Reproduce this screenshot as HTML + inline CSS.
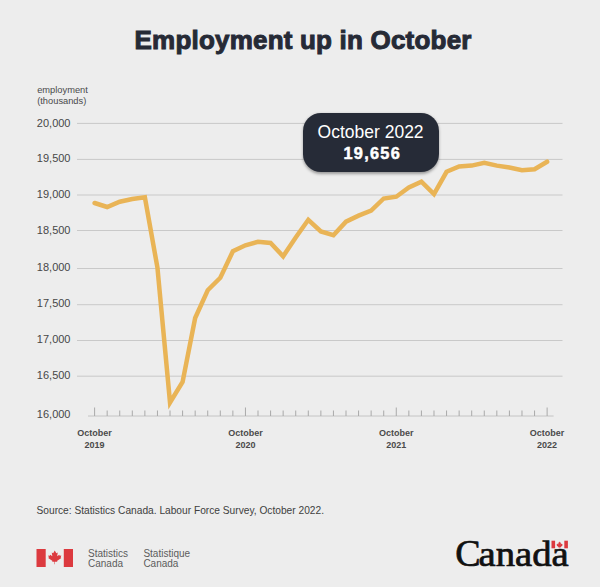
<!DOCTYPE html>
<html><head><meta charset="utf-8">
<style>
html,body{margin:0;padding:0;}
body{width:600px;height:587px;background:#ededed;overflow:hidden;position:relative;font-family:"Liberation Sans",sans-serif;}
svg{position:absolute;left:0;top:0;}
.tip{position:absolute;left:303.3px;top:113.3px;width:136px;height:58.7px;border-radius:18px;background:#262b37;box-shadow:0 1.5px 3px rgba(0,0,0,0.35);}
</style></head><body>
<svg width="600" height="587" viewBox="0 0 600 587">
<text x="303.1" y="48.5" text-anchor="middle" font-family="Liberation Sans" font-weight="bold" font-size="26" fill="#262a36" stroke="#262a36" stroke-width="1.0" letter-spacing="0.2">Employment up in October</text>
<g font-family="Liberation Sans" font-size="9.3" fill="#4a4a4a">
<text x="37.2" y="93">employment</text>
<text x="37.2" y="104.2">(thousands)</text>
</g>
<g stroke="#c9c9c9" stroke-width="1"><line x1="77" y1="123.4" x2="562.5" y2="123.4" /><line x1="77" y1="159.4" x2="562.5" y2="159.4" /><line x1="77" y1="195.0" x2="562.5" y2="195.0" /><line x1="77" y1="230.5" x2="562.5" y2="230.5" /><line x1="77" y1="268.5" x2="562.5" y2="268.5" /><line x1="77" y1="304.7" x2="562.5" y2="304.7" /><line x1="77" y1="340.5" x2="562.5" y2="340.5" /><line x1="77" y1="376.2" x2="562.5" y2="376.2" /></g>
<g font-family="Liberation Sans" font-size="11" fill="#474747" text-anchor="end"><text x="70.5" y="126.8">20,000</text><text x="70.5" y="162.3">19,500</text><text x="70.5" y="198.4">19,000</text><text x="70.5" y="234.4">18,500</text><text x="70.5" y="271.4">18,000</text><text x="70.5" y="307.0">17,500</text><text x="70.5" y="343.1">17,000</text><text x="70.5" y="379.1">16,500</text><text x="70.5" y="417.6">16,000</text></g>
<line x1="88" y1="416" x2="553.6" y2="416" stroke="#c4c4c4" stroke-width="1"/>
<g stroke="#a9a9a9" stroke-width="1"><line x1="94.60" y1="407.5" x2="94.60" y2="416" /><line x1="107.17" y1="410.5" x2="107.17" y2="416" /><line x1="119.74" y1="410.5" x2="119.74" y2="416" /><line x1="132.31" y1="410.5" x2="132.31" y2="416" /><line x1="144.88" y1="410.5" x2="144.88" y2="416" /><line x1="157.45" y1="410.5" x2="157.45" y2="416" /><line x1="170.02" y1="410.5" x2="170.02" y2="416" /><line x1="182.59" y1="410.5" x2="182.59" y2="416" /><line x1="195.16" y1="410.5" x2="195.16" y2="416" /><line x1="207.73" y1="410.5" x2="207.73" y2="416" /><line x1="220.30" y1="410.5" x2="220.30" y2="416" /><line x1="232.87" y1="410.5" x2="232.87" y2="416" /><line x1="245.44" y1="407.5" x2="245.44" y2="416" /><line x1="258.01" y1="410.5" x2="258.01" y2="416" /><line x1="270.58" y1="410.5" x2="270.58" y2="416" /><line x1="283.15" y1="410.5" x2="283.15" y2="416" /><line x1="295.72" y1="410.5" x2="295.72" y2="416" /><line x1="308.29" y1="410.5" x2="308.29" y2="416" /><line x1="320.86" y1="410.5" x2="320.86" y2="416" /><line x1="333.43" y1="410.5" x2="333.43" y2="416" /><line x1="346.00" y1="410.5" x2="346.00" y2="416" /><line x1="358.57" y1="410.5" x2="358.57" y2="416" /><line x1="371.14" y1="410.5" x2="371.14" y2="416" /><line x1="383.71" y1="410.5" x2="383.71" y2="416" /><line x1="396.28" y1="407.5" x2="396.28" y2="416" /><line x1="408.85" y1="410.5" x2="408.85" y2="416" /><line x1="421.42" y1="410.5" x2="421.42" y2="416" /><line x1="433.99" y1="410.5" x2="433.99" y2="416" /><line x1="446.56" y1="410.5" x2="446.56" y2="416" /><line x1="459.13" y1="410.5" x2="459.13" y2="416" /><line x1="471.70" y1="410.5" x2="471.70" y2="416" /><line x1="484.27" y1="410.5" x2="484.27" y2="416" /><line x1="496.84" y1="410.5" x2="496.84" y2="416" /><line x1="509.41" y1="410.5" x2="509.41" y2="416" /><line x1="521.98" y1="410.5" x2="521.98" y2="416" /><line x1="534.55" y1="410.5" x2="534.55" y2="416" /><line x1="547.12" y1="407.5" x2="547.12" y2="416" /></g>
<g font-family="Liberation Sans" font-weight="bold" font-size="9" fill="#4a4a4a" text-anchor="middle"><text x="94.60" y="436">October</text><text x="94.60" y="447.5">2019</text><text x="245.44" y="436">October</text><text x="245.44" y="447.5">2020</text><text x="396.28" y="436">October</text><text x="396.28" y="447.5">2021</text><text x="547.12" y="436">October</text><text x="547.12" y="447.5">2022</text></g>
<polyline points="94.60,203 107.17,207 119.74,201.7 132.31,199 144.88,197.3 157.45,267.7 170.02,402.5 182.59,382 195.16,318 207.73,290.2 220.30,277.8 232.87,251.3 245.44,245.3 258.01,241.8 270.58,243 283.15,256.3 295.72,237.5 308.29,219.8 320.86,231.5 333.43,235.2 346.00,221.6 358.57,215.6 371.14,210.6 383.71,198.5 396.28,196.7 408.85,187.5 421.42,181.6 433.99,194 446.56,171.8 459.13,166.5 471.70,165.6 484.27,162.75 496.84,165.6 509.41,167.5 521.98,170.3 534.55,169.3 547.12,161.7" fill="none" stroke="#e9b456" stroke-width="4.5" stroke-linejoin="miter" stroke-linecap="round"/>
<text x="36.5" y="513.7" font-family="Liberation Sans" font-size="10.2" fill="#404040">Source: Statistics Canada. Labour Force Survey, October 2022.</text>
</svg>
<div class="tip"></div>
<svg width="600" height="587" viewBox="0 0 600 587">
<text x="370.6" y="138" text-anchor="middle" font-family="Liberation Sans" font-size="17.5" fill="#ffffff">October 2022</text>
<text x="372.3" y="158.7" text-anchor="middle" font-family="Liberation Sans" font-weight="bold" font-size="16.3" fill="#ffffff" stroke="#ffffff" stroke-width="0.5" letter-spacing="1.3">19,656</text>
<!-- StatCan flag -->
<g fill="#dc3a3f">
<rect x="36.5" y="549" width="9.2" height="18"/>
<rect x="63.8" y="549" width="9.2" height="18"/>
<path transform="translate(54.75,550.5) scale(1.02,0.885) translate(-54.75,-550.5)" d="M54.75,550.5 L53.2,553.6 L51.8,552.9 L52.4,557 L50.3,555.3 L49.9,556.4 L48.3,556.1 L49,558.5 L48.3,558.9 L52.6,562.4 L52.1,563.3 L54.5,563.1 L54.5,566 L55,566 L55,563.1 L57.4,563.3 L56.9,562.4 L61.2,558.9 L60.5,558.5 L61.2,556.1 L59.6,556.4 L59.2,555.3 L57.1,557 L57.7,552.9 L56.3,553.6 Z"/>
</g>
<g font-family="Liberation Sans" font-size="10" fill="#5c5c5c">
<text x="88" y="556.6">Statistics</text>
<text x="88" y="567">Canada</text>
<text x="143.4" y="556.6">Statistique</text>
<text x="143.4" y="567">Canada</text>
</g>
<!-- Canada wordmark -->
<text x="455.3" y="566.3" font-family="Liberation Serif" font-size="38" fill="#111111" stroke="#111111" stroke-width="0.7">C</text>
<text transform="translate(478.6,566.3) scale(1.045,0.95)" x="0" y="0" font-family="Liberation Serif" font-size="37" fill="#111111" stroke="#111111" stroke-width="0.75">anada</text>
<g fill="#dc3a3f">
<rect x="551.5" y="540.7" width="3.6" height="7.6"/>
<rect x="564.3" y="540.7" width="3.6" height="7.6"/>
<path d="M559.6,541.5 L558.9,542.8 L558.2,542.5 L558.5,544.4 L557.5,543.6 L557.2,544.3 L556.5,544.2 L557,545.3 L556.6,545.5 L558.5,547 L558.3,547.4 L559.4,547.3 L559.4,548.3 L559.8,548.3 L559.8,547.3 L560.9,547.4 L560.7,547 L562.6,545.5 L562.2,545.3 L562.7,544.2 L562,544.3 L561.7,543.6 L560.7,544.4 L561,542.5 L560.3,542.8 Z"/>
</g>
</svg>
</body></html>
